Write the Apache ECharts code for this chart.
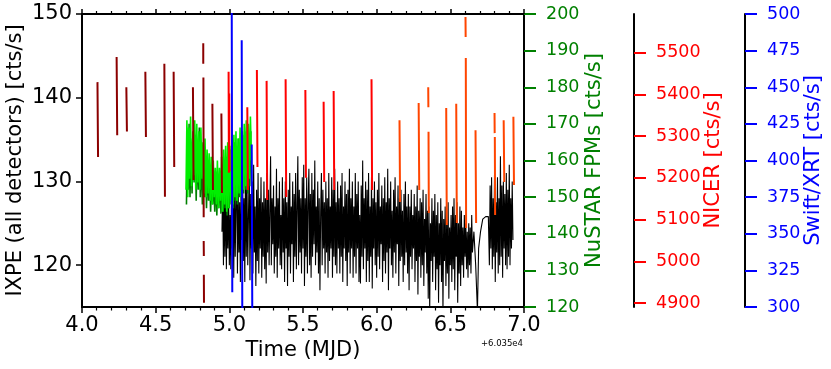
<!DOCTYPE html>
<html>
<head>
<meta charset="utf-8">
<script src="https://cdn.jsdelivr.net/npm/echarts@6/dist/echarts.min.js"></script>
<style>
  html, body { margin: 0; padding: 0; background: #fff; }
  #chart { width: 831px; height: 369px; }
</style>
</head>
<body>
<div id="chart"></div>
<script>
// IXPE light curve (time in MJD - 60350, rate in cts/s)
var ixpe = [
  [4.950,124],[4.955,130],[4.960,120],[4.965,128],[4.970,121],[4.975,131],[4.980,119.5],[4.985,127],[4.990,122],[4.995,129],
  [5.000,120],[5.005,126],[5.010,119.5],[5.015,130.5],[5.020,122],[5.025,128],[5.030,118.5],[5.035,131],[5.040,121],[5.045,127],
  [5.050,132.5],[5.055,119],[5.060,129],[5.065,121.5],[5.070,127.5],[5.075,118],[5.080,130],[5.085,123],[5.090,131.5],[5.095,120.5],
  [5.100,128],[5.105,118],[5.110,133],[5.115,121],[5.120,129.5],[5.125,120],[5.130,126],[5.135,131.5],[5.140,118.2],[5.145,128.5],
  [5.150,122],[5.155,130],[5.160,119],[5.165,132],[5.170,121.5],[5.175,127],[5.180,117.5],[5.185,129],[5.190,120.5],[5.195,131],
  [5.200,119],[5.205,128],[5.210,122],[5.215,130.5],[5.220,118.5],[5.225,127.5],[5.230,121],[5.235,130],[5.240,119.5],[5.245,128],
  [5.250,117.8],[5.255,131],[5.260,121.5],[5.265,129],[5.270,120],[5.275,126.5],[5.280,133],[5.285,120],[5.290,128],[5.295,122.5],
  [5.300,129.5],[5.305,119],[5.310,127],[5.315,121],[5.320,131.5],[5.325,118.5],[5.330,128],[5.335,122],[5.340,130],[5.345,120],
  [5.350,126],[5.355,119.5],[5.360,130.5],[5.365,121.5],[5.370,128],[5.375,118],[5.380,130],[5.385,122],[5.390,127.5],[5.395,117.5],
  [5.400,129],[5.405,121],[5.410,131],[5.415,119],[5.420,127],[5.425,122.5],[5.430,130],[5.435,118],[5.440,128.5],[5.445,121],
  [5.450,131],[5.455,119.5],[5.460,127],[5.465,133],[5.470,120],[5.475,129],[5.480,121.5],[5.485,128],[5.490,119],[5.495,130.5],
  [5.500,122],[5.505,132],[5.510,117.5],[5.515,128],[5.520,121],[5.525,130.5],[5.530,119],[5.535,127.5],[5.540,131.5],[5.545,120],
  [5.550,128.5],[5.555,118.5],[5.560,131],[5.565,121],[5.570,129],[5.575,122.5],[5.580,132.5],[5.585,120],[5.590,127],[5.595,121.5],
  [5.600,130],[5.605,119],[5.610,128],[5.615,117],[5.620,126.5],[5.625,131],[5.630,120],[5.635,129],[5.640,122],[5.645,127.5],
  [5.650,119],[5.655,130],[5.660,121.5],[5.665,128],[5.670,118.5],[5.675,131],[5.680,120.5],[5.685,127],[5.690,122],[5.695,130.5],
  [5.700,118.5],[5.705,129],[5.710,121],[5.715,131.5],[5.720,120],[5.725,127.5],[5.730,119],[5.735,130],[5.740,122],[5.745,128],
  [5.750,119],[5.755,129.5],[5.760,121],[5.765,131],[5.770,118],[5.775,127],[5.780,122],[5.785,130],[5.790,120.5],[5.795,128.5],
  [5.800,117.5],[5.805,129],[5.810,121.5],[5.815,131.5],[5.820,119],[5.825,128],[5.830,122],[5.835,130],[5.840,118.5],[5.845,127],
  [5.850,121],[5.855,131],[5.860,119],[5.865,128.5],[5.870,122],[5.875,130],[5.880,118],[5.885,126],[5.890,117.8],[5.895,129.5],
  [5.900,121],[5.905,132.5],[5.910,119.5],[5.915,128],[5.920,122],[5.925,130],[5.930,118],[5.935,129],[5.940,120.5],[5.945,131],
  [5.950,118],[5.955,127],[5.960,121],[5.965,130.5],[5.970,117.2],[5.975,128],[5.980,122],[5.985,130],[5.990,120],[5.995,127.5],
  [6.000,118.5],[6.005,129],[6.010,121],[6.015,131],[6.020,119.5],[6.025,127],[6.030,122.5],[6.035,129.5],[6.040,118],[6.045,128],
  [6.050,120.5],[6.055,130.5],[6.060,119],[6.065,127.5],[6.070,121.5],[6.075,131.5],[6.080,117],[6.085,128],[6.090,122],[6.095,130],
  [6.100,120],[6.105,126.5],[6.110,118.5],[6.115,129],[6.120,121.5],[6.125,130.5],[6.130,119],[6.135,127],[6.140,122.5],[6.145,129.5],
  [6.150,117.5],[6.155,128],[6.160,120.5],[6.165,129],[6.170,121],[6.175,126.5],[6.180,118],[6.185,128.5],[6.190,120],[6.195,130],
  [6.200,121.5],[6.205,127],[6.210,119],[6.215,128.5],[6.220,117],[6.225,127],[6.230,121],[6.235,129],[6.240,119.5],[6.245,126],
  [6.250,122],[6.255,128.5],[6.260,118],[6.265,127],[6.270,120.5],[6.275,129.5],[6.280,116.5],[6.285,126.5],[6.290,121],[6.295,128],
  [6.300,118.5],[6.305,127.5],[6.310,120],[6.315,129],[6.320,117.5],[6.325,125.5],[6.330,121.5],[6.335,128.5],[6.340,119],[6.345,126.5],
  [6.350,116],[6.355,127],[6.360,114.5],[6.365,125],[6.370,120.5],[6.375,128],[6.380,118],[6.385,126.5],[6.390,121],[6.395,128.5],
  [6.400,117],[6.405,126],[6.410,119.5],[6.415,127.5],[6.420,115.5],[6.425,125],[6.430,120],[6.435,128],[6.440,118],[6.445,126.5],
  [6.450,114.5],[6.455,125.5],[6.460,120.5],[6.465,127],[6.470,117.5],[6.475,125],[6.480,119],[6.485,127.5],[6.490,116],[6.495,124.5],
  [6.500,120],[6.505,126],[6.510,118],[6.515,127],[6.520,119.5],[6.525,128],[6.530,117],[6.535,126],[6.540,121],[6.545,127.5],
  [6.550,115.5],[6.555,125],[6.560,119],[6.565,127],[6.570,117.5],[6.575,126.5],[6.580,120],[6.585,124.5],[6.590,118.5],[6.595,126],
  [6.600,121],[6.605,125],[6.610,119.5],[6.615,124],[6.620,118.5],[6.625,125],[6.630,120],[6.635,124.5],[6.640,119],[6.645,126],
  [6.650,121.5],[6.660,124],[6.672,120],[6.684,114.5],[6.692,122],[6.705,124],[6.720,125.5],[6.740,125.8],[6.758,125.8],
  [6.765,120],[6.770,129.5],[6.775,122],[6.780,130.5],[6.785,119.5],[6.790,128],[6.795,121],[6.800,131],[6.805,118],[6.810,127.5],
  [6.815,121.5],[6.820,130.5],[6.825,119],[6.830,128],[6.835,120],[6.840,133],[6.845,121],[6.850,129.5],[6.855,118.5],[6.860,130],
  [6.865,122],[6.870,128.5],[6.875,120],[6.880,131],[6.885,119.5],[6.890,129],[6.895,121],[6.900,132],[6.905,120],[6.910,128],
  [6.915,122],[6.920,130],[6.925,123]
];

// NuSTAR FPMA / FPMB
var nustarA = [
  [4.706,152],[4.712,171],[4.718,150],[4.724,169],[4.730,155],[4.737,172],[4.744,153],[4.751,166],[4.758,156],[4.765,171],[4.772,152],[4.779,170],[4.786,154],[4.793,168],[4.800,152],[4.807,169],[4.814,155],[4.821,165],[4.828,151],[4.835,166],[4.842,150],[4.849,163],[4.856,151],[4.863,162],[4.870,149],[4.877,161],[4.884,148],[4.891,160],[4.898,150],[4.905,158],[4.912,148],[4.919,160],[4.926,147],[4.933,158],[4.940,149],[4.947,161],[4.954,146],[4.961,163],[4.968,148],[4.975,164],[4.982,146],[4.989,165],[4.996,147],[5.003,164],[5.010,149],[5.017,166],[5.024,148],[5.031,167],[5.038,150],[5.045,168],[5.052,149],[5.059,166],[5.066,151],[5.073,169],[5.080,150],[5.087,168],[5.094,152],[5.101,170],[5.108,153],[5.115,171],[5.122,152],[5.129,170],[5.136,155],[5.143,172],[5.150,160]
];
var nustarB = [
  [4.709,148],[4.715,166],[4.721,152],[4.727,170],[4.733,150],[4.740,164],[4.747,151],[4.754,168],[4.761,154],[4.768,167],[4.775,149],[4.782,165],[4.789,152],[4.796,169],[4.803,150],[4.810,163],[4.817,148],[4.824,164],[4.831,150],[4.838,161],[4.845,147],[4.852,160],[4.859,149],[4.866,158],[4.873,146],[4.880,157],[4.887,148],[4.894,156],[4.901,146],[4.908,157],[4.915,145],[4.922,155],[4.929,147],[4.936,157],[4.943,145.5],[4.950,159],[4.957,146],[4.964,160],[4.971,147],[4.978,161],[4.985,145],[4.992,162],[4.999,147],[5.006,163],[5.013,148],[5.020,164],[5.027,147],[5.034,165],[5.041,149],[5.048,164],[5.055,148],[5.062,166],[5.069,150],[5.076,165],[5.083,149],[5.090,167],[5.097,151],[5.104,168],[5.111,152],[5.118,169],[5.125,151],[5.132,167],[5.139,153],[5.146,168]
];

// NICER GTIs (null = gap between GTIs)
var nicerDark = [
  [4.105,5429],[4.109,5250],null,
  [4.235,5489],[4.239,5302],null,
  [4.301,5417],[4.305,5311],null,
  [4.430,5454],[4.434,5298],null,
  [4.559,5473],[4.563,5155],null,
  [4.622,5454],[4.626,5226],null,
  [4.753,5417],[4.757,5195],null,
  [4.823,5522],[4.823,5473],null,
  [4.824,5440],[4.826,5106],null,
  [4.826,5049],[4.827,5013],null,
  [4.827,4968],[4.828,4901],null,
  [4.885,5377],[4.889,5171],null,
  [4.946,5354],[4.950,5164]
];
var nicerRed = [
  [4.995,5454],[4.997,5212],[4.999,5402],[5.001,5215],null,
  [5.122,5369],[5.126,5171],null,
  [5.187,5458],[5.191,5226],null,
  [5.253,5432],[5.257,5147],null,
  [5.382,5436],[5.386,5154],null,
  [5.516,5410],[5.520,5200],null,
  [5.640,5382],[5.644,5190],null,
  [5.708,5408],[5.712,5171],null,
  [5.965,5436],[5.969,5171]
];
var nicerOrange = [
  [6.155,5338],[6.159,5142],null,
  [6.285,5379],[6.289,5171],null,
  [6.350,5417],[6.351,5369],null,
  [6.352,5310],[6.354,5116],null,
  [6.472,5367],[6.476,5087],null,
  [6.540,5377],[6.544,5092],null,
  [6.603,5585],[6.604,5537],null,
  [6.605,5487],[6.607,5080],null,
  [6.671,5314],[6.675,5092],null,
  [6.800,5355],[6.801,5307],null,
  [6.802,5298],[6.804,5111],null,
  [6.862,5338],[6.866,5190],null,
  [6.928,5346],[6.932,5183]
];

// Swift/XRT
var swift = [
  [5.016,520],[5.020,310],null,
  [5.084,482],[5.088,290],null,
  [5.152,411],[5.156,290]
];

var ixpeTicks = [120, 130, 140, 150];
var nicerTicks = [4900, 5000, 5100, 5200, 5300, 5400, 5500];

var FONT = "DejaVu Sans";

var chart = echarts.init(document.getElementById("chart"), null, { renderer: "canvas" });

function plain(v) { return String(v); }

function rightAxis(name, color, min, max, interval, offset, gap, extra) {
  var ax = {
    type: "value",
    position: "right",
    offset: offset,
    min: min,
    max: max,
    interval: interval,
    name: name,
    nameLocation: "middle",
    nameGap: gap,
    nameMoveOverlap: false,
    nameTextStyle: { color: color, fontSize: 21, fontFamily: FONT },
    axisLine: { show: true, onZero: false, lineStyle: { color: "#000", width: 2 } },
    axisTick: { show: true, length: 12, lineStyle: { color: color, width: 2 } },
    axisLabel: { color: color, fontSize: 17.5, fontFamily: FONT, margin: 22, formatter: plain },
    splitLine: { show: false }
  };
  if (extra) {
    ax.axisTick.customValues = extra;
    ax.axisLabel.customValues = extra;
    delete ax.interval;
  }
  return ax;
}

var option = {
  animation: false,
  backgroundColor: "#fff",
  grid: { left: 82, right: 307, top: 14, bottom: 62, outerBoundsMode: "none" },
  xAxis: [
    {
      type: "value",
      min: 4.0,
      max: 7.0,
      interval: 0.5,
      name: "Time (MJD)",
      nameLocation: "middle",
      nameGap: 33,
      nameMoveOverlap: false,
      nameTextStyle: { color: "#000", fontSize: 21, fontFamily: FONT },
      axisLine: { onZero: false, lineStyle: { color: "#000", width: 2 } },
      axisTick: { length: 6, lineStyle: { color: "#000", width: 1.5 } },
      minorTick: { show: true, splitNumber: 5, length: 3.5, lineStyle: { color: "#000", width: 1.2 } },
      axisLabel: { color: "#000", fontSize: 21, fontFamily: FONT, margin: 8,
        formatter: function (v) { return v.toFixed(1); } },
      splitLine: { show: false }
    },
    {
      type: "value",
      position: "top",
      min: 4.0,
      max: 7.0,
      interval: 0.5,
      axisLine: { onZero: false, lineStyle: { color: "#000", width: 2 } },
      axisTick: { length: 5, lineStyle: { color: "#000", width: 1.5 } },
      minorTick: { show: true, splitNumber: 5, length: 3, lineStyle: { color: "#000", width: 1.2 } },
      axisLabel: { show: false },
      splitLine: { show: false }
    }
  ],
  yAxis: [
    {
      type: "value",
      position: "left",
      min: 115,
      max: 150,
      name: "IXPE (all detectors) [cts/s]",
      nameLocation: "middle",
      nameGap: 56,
      nameMoveOverlap: false,
      nameTextStyle: { color: "#000", fontSize: 21, fontFamily: FONT },
      axisLine: { show: true, onZero: false, lineStyle: { color: "#000", width: 2 } },
      axisTick: { show: true, length: 6, customValues: ixpeTicks, lineStyle: { color: "#000", width: 1.5 } },
      axisLabel: { color: "#000", fontSize: 21, fontFamily: FONT, margin: 10, customValues: ixpeTicks },
      splitLine: { show: false }
    },
    rightAxis("NuSTAR FPMs [cts/s]", "#008000", 120, 200, 10, 0, 60),
    rightAxis("NICER [cts/s]", "#ff0000", 4891, 5592, null, 110, 69, nicerTicks),
    rightAxis("Swift/XRT [cts/s]", "#0000ff", 300, 500, 25, 221, 58)
  ],
  graphic: [
    {
      type: "text",
      right: 831 - 523,
      top: 339,
      style: { text: "+6.035e4", fill: "#000", font: "8.5px 'DejaVu Sans'" }
    }
  ],
  series: [
    { name: "IXPE", type: "line", yAxisIndex: 0, data: ixpe, showSymbol: false, symbol: "none",
      lineStyle: { color: "#000", width: 1.1 }, z: 2 },
    { name: "FPMB", type: "line", yAxisIndex: 1, data: nustarB, showSymbol: false, symbol: "none",
      lineStyle: { color: "#008000", width: 1.6 }, z: 3 },
    { name: "FPMA", type: "line", yAxisIndex: 1, data: nustarA, showSymbol: false, symbol: "none",
      lineStyle: { color: "#00ee00", width: 1.6 }, z: 3 },
    { name: "NICER 1", type: "line", yAxisIndex: 2, data: nicerDark, showSymbol: false, symbol: "none",
      lineStyle: { color: "#8b0000", width: 2 }, z: 4 },
    { name: "NICER 2", type: "line", yAxisIndex: 2, data: nicerRed, showSymbol: false, symbol: "none",
      lineStyle: { color: "#ff0000", width: 2 }, z: 4 },
    { name: "NICER 3", type: "line", yAxisIndex: 2, data: nicerOrange, showSymbol: false, symbol: "none",
      lineStyle: { color: "#ff4500", width: 2 }, z: 4 },
    { name: "Swift", type: "line", yAxisIndex: 3, data: swift, showSymbol: false, symbol: "none",
      lineStyle: { color: "#0000ff", width: 2 }, z: 5 }
  ]
};

chart.setOption(option);
</script>
</body>
</html>
